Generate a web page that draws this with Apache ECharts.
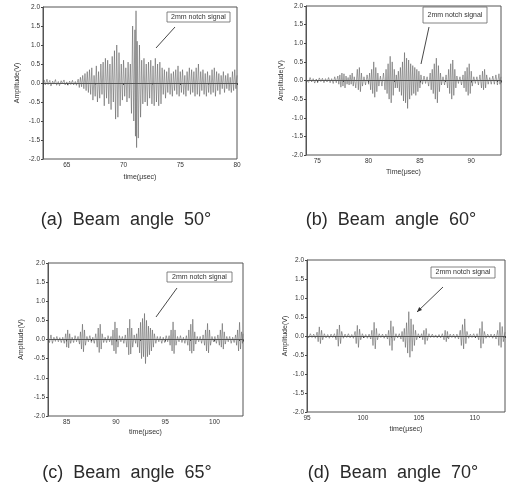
<!DOCTYPE html>
<html>
<head>
<meta charset="utf-8">
<title>Beam angle signals</title>
<script src="https://cdn.jsdelivr.net/npm/echarts@6/dist/echarts.min.js"></script>
<style>
  html, body { margin: 0; padding: 0; background: #fff; }
  #chart { width: 508px; height: 493px; }
</style>
</head>
<body>
<div id="chart"></div>
<script>
// captions under each panel
var captions = ['(a)  Beam  angle  50°', '(b)  Beam  angle  60°', '(c)  Beam  angle  65°', '(d)  Beam  angle  70°'];
var xNames = ['time(μsec)', 'Time(μsec)', 'time(μsec)', 'time(μsec)'];
var yName = 'Amplitude(V)';
var noteText = '2mm notch signal';

// x ranges
var xMin = [62.9, 73.9, 83.1, 95];
var xMax = [80, 92.9, 102.9, 112.7];

// signals: [time(us), amplitude(V)] at the peaks/troughs
var sigA = [
  [62.9,0.02],[63.0,0.08],[63.1,-0.05],[63.25,0.1],[63.35,-0.04],[63.5,0.07],[63.6,-0.08],[63.75,0.05],[63.85,-0.03],[64.0,0.09],
  [64.1,-0.06],[64.25,0.04],[64.35,-0.07],[64.5,0.06],[64.6,-0.02],[64.75,0.08],[64.85,-0.05],[65.0,0.03],[65.1,-0.06],[65.25,0.05],
  [65.35,-0.04],[65.5,0.07],[65.6,-0.05],[65.75,0.04],[65.85,-0.06],[66.0,0.1],[66.1,-0.12],[66.2,0.15],[66.3,-0.1],[66.4,0.2],
  [66.5,-0.15],[66.6,0.25],[66.7,-0.2],[66.8,0.3],[66.9,-0.25],[67.0,0.35],[67.1,-0.3],[67.2,0.4],[67.3,-0.45],[67.4,0.2],
  [67.5,-0.35],[67.6,0.45],[67.7,-0.5],[67.8,0.3],[67.9,-0.4],[68.0,0.5],[68.1,-0.3],[68.2,0.55],[68.3,-0.6],[68.4,0.65],
  [68.5,-0.4],[68.6,0.6],[68.7,-0.55],[68.8,0.5],[68.9,-0.7],[69.0,0.7],[69.1,-0.5],[69.2,0.85],[69.3,-0.95],[69.4,1.0],
  [69.5,-0.9],[69.6,0.8],[69.7,-0.6],[69.8,0.5],[69.9,-0.45],[70.0,0.6],[70.1,-0.35],[70.2,0.4],[70.3,-0.5],[70.4,0.55],
  [70.5,-0.4],[70.6,0.5],[70.7,-0.8],[70.8,1.5],[70.9,-1.0],[71.0,1.4],[71.05,-1.4],[71.1,1.9],[71.15,-1.7],[71.2,1.1],
  [71.3,-1.45],[71.4,1.0],[71.5,-0.9],[71.6,0.6],[71.7,-0.55],[71.8,0.65],[71.9,-0.5],[72.0,0.5],[72.1,-0.6],[72.2,0.55],
  [72.3,-0.4],[72.4,0.6],[72.5,-0.55],[72.6,0.45],[72.7,-0.6],[72.8,0.65],[72.9,-0.5],[73.0,0.5],[73.1,-0.6],[73.2,0.55],
  [73.3,-0.55],[73.4,0.4],[73.5,-0.3],[73.6,0.35],[73.7,-0.4],[73.8,0.3],[73.9,-0.25],[74.0,0.4],[74.1,-0.3],[74.2,0.25],
  [74.3,-0.35],[74.4,0.3],[74.5,-0.2],[74.6,0.35],[74.7,-0.3],[74.8,0.45],[74.9,-0.35],[75.0,0.3],[75.1,-0.25],[75.2,0.35],
  [75.3,-0.3],[75.4,0.2],[75.5,-0.35],[75.6,0.3],[75.7,-0.2],[75.8,0.4],[75.9,-0.3],[76.0,0.35],[76.1,-0.25],[76.2,0.3],
  [76.3,-0.35],[76.4,0.4],[76.5,-0.3],[76.6,0.5],[76.7,-0.35],[76.8,0.3],[76.9,-0.2],[77.0,0.35],[77.1,-0.3],[77.2,0.25],
  [77.3,-0.35],[77.4,0.3],[77.5,-0.25],[77.6,0.2],[77.7,-0.3],[77.8,0.35],[77.9,-0.25],[78.0,0.4],[78.1,-0.35],[78.2,0.3],
  [78.3,-0.2],[78.4,0.25],[78.5,-0.3],[78.6,0.2],[78.7,-0.15],[78.8,0.3],[78.9,-0.25],[79.0,0.2],[79.1,-0.15],[79.2,0.25],
  [79.3,-0.2],[79.4,0.15],[79.5,-0.25],[79.6,0.3],[79.7,-0.2],[79.8,0.35],[79.9,-0.15],[80.0,0.2]
];
var sigB = [
  [73.9,0.02],[74.0,0.06],[74.15,-0.05],[74.3,0.08],[74.45,-0.04],[74.6,0.05],[74.75,-0.07],[74.9,0.04],[75.05,-0.05],[75.2,0.07],
  [75.35,-0.03],[75.5,0.06],[75.65,-0.06],[75.8,0.05],[75.95,-0.04],[76.1,0.08],[76.25,-0.06],[76.4,0.05],[76.55,-0.08],[76.7,0.1],
  [76.85,-0.06],[77.0,0.12],[77.1,-0.1],[77.2,0.15],[77.3,-0.18],[77.4,0.2],[77.5,-0.15],[77.6,0.18],[77.7,-0.2],[77.8,0.12],
  [77.9,-0.1],[78.0,0.08],[78.1,-0.12],[78.2,0.15],[78.3,-0.1],[78.4,0.2],[78.5,-0.15],[78.6,0.1],[78.75,-0.2],[78.9,0.3],
  [79.0,-0.25],[79.1,0.35],[79.2,-0.3],[79.3,0.2],[79.4,-0.15],[79.55,0.1],[79.7,-0.12],[79.85,0.15],[80.0,-0.1],[80.1,0.2],
  [80.2,-0.25],[80.3,0.3],[80.4,-0.35],[80.5,0.5],[80.6,-0.45],[80.7,0.35],[80.8,-0.3],[80.9,0.2],[81.0,-0.15],[81.15,0.12],
  [81.3,-0.15],[81.45,0.2],[81.6,-0.25],[81.7,0.3],[81.8,-0.35],[81.9,0.45],[82.0,-0.5],[82.1,0.65],[82.2,-0.6],[82.3,0.5],
  [82.4,-0.4],[82.5,0.3],[82.6,-0.2],[82.7,0.15],[82.8,-0.2],[82.9,0.25],[83.0,-0.3],[83.1,0.35],[83.2,-0.4],[83.3,0.5],
  [83.4,-0.55],[83.5,0.75],[83.6,-0.6],[83.7,0.6],[83.8,-0.75],[83.9,0.55],[84.0,-0.5],[84.1,0.45],[84.2,-0.4],[84.3,0.4],
  [84.4,-0.35],[84.5,0.35],[84.6,-0.4],[84.7,0.3],[84.8,-0.3],[84.9,0.25],[85.0,-0.2],[85.1,0.15],[85.25,-0.1],[85.4,0.12],
  [85.55,-0.08],[85.7,0.1],[85.85,-0.15],[86.0,0.2],[86.1,-0.25],[86.2,0.3],[86.3,-0.35],[86.4,0.45],[86.5,-0.5],[86.6,0.6],
  [86.7,-0.6],[86.8,0.4],[86.9,-0.3],[87.0,0.2],[87.1,-0.12],[87.25,0.1],[87.4,-0.12],[87.55,0.15],[87.7,-0.2],[87.8,0.3],
  [87.9,-0.35],[88.0,0.45],[88.1,-0.5],[88.2,0.55],[88.3,-0.4],[88.4,0.3],[88.5,-0.2],[88.6,0.12],[88.75,-0.08],[88.9,0.1],
  [89.05,-0.12],[89.2,0.15],[89.3,-0.2],[89.4,0.25],[89.5,-0.3],[89.6,0.35],[89.7,-0.4],[89.8,0.45],[89.9,-0.35],[90.0,0.25],
  [90.1,-0.15],[90.25,0.1],[90.4,-0.08],[90.55,0.1],[90.7,-0.12],[90.85,0.15],[91.0,-0.2],[91.1,0.25],[91.2,-0.25],[91.3,0.3],
  [91.4,-0.2],[91.5,0.15],[91.65,-0.1],[91.8,0.08],[91.95,-0.1],[92.1,0.12],[92.25,-0.1],[92.4,0.15],[92.55,-0.12],[92.7,0.18],
  [92.8,-0.1],[92.9,0.1]
];
var sigC = [
  [83.1,0.05],[83.25,-0.08],[83.4,0.12],[83.55,-0.1],[83.7,0.06],[83.85,-0.05],[84.0,0.08],[84.15,-0.06],[84.3,0.05],[84.45,-0.08],
  [84.6,0.06],[84.75,-0.1],[84.9,0.15],[85.0,-0.2],[85.1,0.25],[85.2,-0.22],[85.3,0.15],[85.4,-0.1],[85.55,0.06],[85.7,-0.08],
  [85.85,0.1],[86.0,-0.06],[86.15,0.08],[86.3,-0.12],[86.4,0.2],[86.5,-0.25],[86.6,0.4],[86.7,-0.32],[86.8,0.25],[86.9,-0.15],
  [87.05,0.08],[87.2,-0.06],[87.35,0.1],[87.5,-0.08],[87.65,0.06],[87.8,-0.1],[87.95,0.15],[88.1,-0.2],[88.2,0.3],[88.3,-0.34],
  [88.4,0.4],[88.5,-0.25],[88.6,0.15],[88.75,-0.08],[88.9,0.06],[89.05,-0.08],[89.2,0.1],[89.35,-0.06],[89.5,0.08],[89.6,-0.15],
  [89.7,0.25],[89.8,-0.3],[89.9,0.46],[90.0,-0.37],[90.1,0.3],[90.2,-0.2],[90.35,0.1],[90.5,-0.06],[90.65,0.08],[90.8,-0.1],
  [90.95,0.12],[91.1,-0.2],[91.2,0.3],[91.3,-0.4],[91.4,0.53],[91.5,-0.38],[91.6,0.3],[91.7,-0.2],[91.85,0.12],[92.0,-0.1],
  [92.1,0.15],[92.2,-0.2],[92.3,0.3],[92.4,-0.35],[92.5,0.45],[92.6,-0.5],[92.7,0.55],[92.8,-0.45],[92.9,0.68],[93.0,-0.63],
  [93.1,0.5],[93.2,-0.45],[93.3,0.35],[93.4,-0.4],[93.5,0.3],[93.6,-0.3],[93.7,0.25],[93.8,-0.2],[93.9,0.15],[94.05,-0.1],
  [94.2,0.08],[94.35,-0.06],[94.5,0.08],[94.65,-0.1],[94.8,0.06],[94.95,-0.08],[95.1,0.1],[95.25,-0.06],[95.4,0.1],[95.5,-0.15],
  [95.6,0.25],[95.7,-0.3],[95.8,0.46],[95.9,-0.37],[96.0,0.25],[96.1,-0.15],[96.25,0.08],[96.4,-0.06],[96.55,0.1],[96.7,-0.08],
  [96.85,0.06],[97.0,-0.1],[97.15,0.1],[97.3,-0.15],[97.4,0.25],[97.5,-0.3],[97.6,0.4],[97.7,-0.36],[97.8,0.53],[97.9,-0.3],
  [98.0,0.2],[98.1,-0.12],[98.25,0.08],[98.4,-0.06],[98.55,0.08],[98.7,-0.1],[98.85,0.12],[99.0,-0.15],[99.1,0.25],[99.2,-0.3],
  [99.3,0.42],[99.4,-0.35],[99.5,0.25],[99.6,-0.15],[99.75,0.08],[99.9,-0.06],[100.05,0.08],[100.2,-0.1],[100.35,0.12],[100.5,-0.15],
  [100.6,0.25],[100.7,-0.2],[100.8,0.42],[100.9,-0.25],[101.0,0.2],[101.1,-0.12],[101.25,0.08],[101.4,-0.06],[101.55,0.08],[101.7,-0.1],
  [101.85,0.06],[102.0,-0.08],[102.15,0.12],[102.25,-0.15],[102.35,0.25],[102.45,-0.3],[102.55,0.45],[102.65,-0.25],[102.75,0.2],[102.85,-0.1],
  [102.9,0.15]
];
var sigD = [
  [95.0,0.03],[95.15,-0.05],[95.3,0.06],[95.45,-0.04],[95.6,0.05],[95.75,-0.06],[95.9,0.1],[96.0,-0.15],[96.1,0.24],[96.2,-0.2],
  [96.3,0.15],[96.4,-0.1],[96.55,0.06],[96.7,-0.05],[96.85,0.04],[97.0,-0.06],[97.15,0.05],[97.3,-0.04],[97.45,0.06],[97.6,-0.1],
  [97.7,0.18],[97.8,-0.27],[97.9,0.29],[98.0,-0.2],[98.1,0.12],[98.25,-0.06],[98.4,0.05],[98.55,-0.04],[98.7,0.06],[98.85,-0.05],
  [99.0,0.04],[99.15,-0.06],[99.3,0.12],[99.4,-0.2],[99.5,0.28],[99.6,-0.3],[99.7,0.18],[99.8,-0.1],[99.95,0.06],[100.1,-0.05],
  [100.25,0.04],[100.4,-0.06],[100.55,0.05],[100.7,-0.08],[100.8,0.15],[100.9,-0.25],[101.0,0.36],[101.1,-0.34],[101.2,0.2],[101.3,-0.1],
  [101.45,0.06],[101.6,-0.04],[101.75,0.05],[101.9,-0.06],[102.05,0.05],[102.2,-0.08],[102.3,0.15],[102.4,-0.25],[102.5,0.4],[102.6,-0.38],
  [102.7,0.25],[102.8,-0.12],[102.95,0.06],[103.1,-0.05],[103.25,0.06],[103.4,-0.08],[103.5,0.12],[103.6,-0.15],[103.7,0.2],[103.8,-0.3],
  [103.9,0.35],[104.0,-0.45],[104.1,0.64],[104.2,-0.56],[104.3,0.45],[104.4,-0.4],[104.5,0.3],[104.6,-0.25],[104.7,0.15],[104.8,-0.1],
  [104.95,0.06],[105.1,-0.05],[105.25,0.06],[105.35,-0.1],[105.45,0.15],[105.55,-0.22],[105.65,0.2],[105.75,-0.12],[105.9,0.06],[106.05,-0.04],
  [106.2,0.05],[106.35,-0.04],[106.5,0.03],[106.65,-0.05],[106.8,0.04],[106.95,-0.05],[107.1,0.06],[107.25,-0.1],[107.35,0.15],[107.45,-0.15],
  [107.55,0.12],[107.65,-0.08],[107.8,0.05],[107.95,-0.04],[108.1,0.05],[108.25,-0.06],[108.4,0.05],[108.55,-0.08],[108.7,0.15],[108.8,-0.25],
  [108.9,0.3],[109.0,-0.34],[109.1,0.45],[109.2,-0.2],[109.3,0.12],[109.45,-0.06],[109.6,0.05],[109.75,-0.04],[109.9,0.06],[110.05,-0.05],
  [110.2,0.06],[110.35,-0.1],[110.45,0.2],[110.55,-0.32],[110.65,0.38],[110.75,-0.2],[110.85,0.12],[111.0,-0.06],[111.15,0.05],[111.3,-0.04],
  [111.45,0.05],[111.6,-0.06],[111.75,0.05],[111.9,-0.08],[112.05,0.15],[112.15,-0.25],[112.25,0.36],[112.35,-0.3],[112.45,0.25],[112.55,-0.15],
  [112.7,0.1]
];
var signals = [sigA, sigB, sigC, sigD];

// panel frames in pixels
var panels = [
  {left: 43, top: 7, width: 194, height: 152, nameGap: 22, xNameGap: 15},
  {left: 306, top: 6, width: 195, height: 149, nameGap: 21, xNameGap: 14},
  {left: 48, top: 263, width: 195, height: 153, nameGap: 23, xNameGap: 13},
  {left: 307, top: 260, width: 198, height: 152, nameGap: 16, xNameGap: 14}
];

var axisColor = '#444';
var txtFont = '"Liberation Sans", Arial, sans-serif';

var grids = [], xAxes = [], yAxes = [], series = [];
panels.forEach(function (p, i) {
  grids.push({
    left: p.left, top: p.top, width: p.width, height: p.height,
    show: true, borderColor: '#555', borderWidth: 1, backgroundColor: '#fff'
  });
  var minNice = (xMin[i] % 5 === 0);
  var maxNice = (xMax[i] % 5 === 0);
  xAxes.push({
    gridIndex: i, type: 'value', min: xMin[i], max: xMax[i],
    splitNumber: i === 0 ? 3 : 4,
    name: xNames[i], nameLocation: 'middle', nameGap: p.xNameGap,
    nameTextStyle: {fontSize: 7, color: '#333', fontFamily: txtFont},
    axisLine: {lineStyle: {color: '#555', width: 1}},
    axisTick: {show: true, length: 2, lineStyle: {color: axisColor}},
    minorTick: {show: true, splitNumber: 2, length: 1.5, lineStyle: {color: axisColor}},
    axisLabel: {fontSize: 6.5, color: '#333', margin: 3, fontFamily: txtFont,
      showMinLabel: minNice, showMaxLabel: maxNice},
    splitLine: {show: false}
  });
  yAxes.push({
    gridIndex: i, type: 'value', min: -2, max: 2, interval: 0.5,
    name: yName, nameLocation: 'middle', nameGap: p.nameGap, nameRotate: 90,
    nameTextStyle: {fontSize: 7, color: '#333', fontFamily: txtFont},
    axisLine: {lineStyle: {color: '#555', width: 1}},
    axisTick: {show: true, length: 2, lineStyle: {color: axisColor}},
    axisLabel: {fontSize: 6.5, color: '#333', margin: 3, fontFamily: txtFont,
      formatter: function (v) { return v.toFixed(1); }},
    splitLine: {show: false}
  });
  series.push({
    type: 'line', xAxisIndex: i, yAxisIndex: i, data: signals[i],
    symbol: 'none', smooth: false,
    lineStyle: {color: '#5a5a5a', width: 0.55},
    animation: false
  });
});

// callout boxes with leader lines, placed like the original
function note(x, y, w, h, x1, y1, x2, y2, head) {
  var els = [
    {type: 'rect', shape: {x: x, y: y, width: w, height: h},
      style: {fill: '#fff', stroke: '#666', lineWidth: 0.8}, z: 100},
    {type: 'text', x: x + w / 2, y: y + h / 2, z: 101,
      style: {text: noteText, fill: '#333', fontSize: 7, fontFamily: txtFont,
        align: 'center', verticalAlign: 'middle'}},
    {type: 'line', shape: {x1: x1, y1: y1, x2: x2, y2: y2},
      style: {stroke: '#333', lineWidth: 0.9}, z: 100}
  ];
  if (head) {
    var ang = Math.atan2(y2 - y1, x2 - x1), L = 5, W = 2;
    var bx = x2 - L * Math.cos(ang), by = y2 - L * Math.sin(ang);
    els.push({type: 'polygon', z: 100,
      shape: {points: [[x2, y2],
        [bx + W * Math.sin(ang), by - W * Math.cos(ang)],
        [bx - W * Math.sin(ang), by + W * Math.cos(ang)]]},
      style: {fill: '#333'}});
  }
  return els;
}

var graphics = []
  .concat(note(167, 12, 63, 10, 175, 27, 156, 48, false))
  .concat(note(423, 7, 64, 16, 429, 27, 421, 64, false))
  .concat(note(167, 272, 65, 10, 177, 288, 156, 317, false))
  .concat(note(431, 267, 64, 11, 443, 287, 417, 312, true));

var capPos = [[126, 220], [391, 220], [127, 473], [393, 473]];
capPos.forEach(function (c, i) {
  graphics.push({type: 'text', x: c[0], y: c[1],
    style: {text: captions[i], fill: '#2a2a2a', fontSize: 18, fontFamily: txtFont,
      align: 'center', verticalAlign: 'middle'}});
});

var myChart = echarts.init(document.getElementById('chart'), null, {renderer: 'canvas'});
myChart.setOption({
  backgroundColor: '#fff',
  animation: false,
  grid: grids,
  xAxis: xAxes,
  yAxis: yAxes,
  series: series,
  graphic: graphics
});
</script>
</body>
</html>
